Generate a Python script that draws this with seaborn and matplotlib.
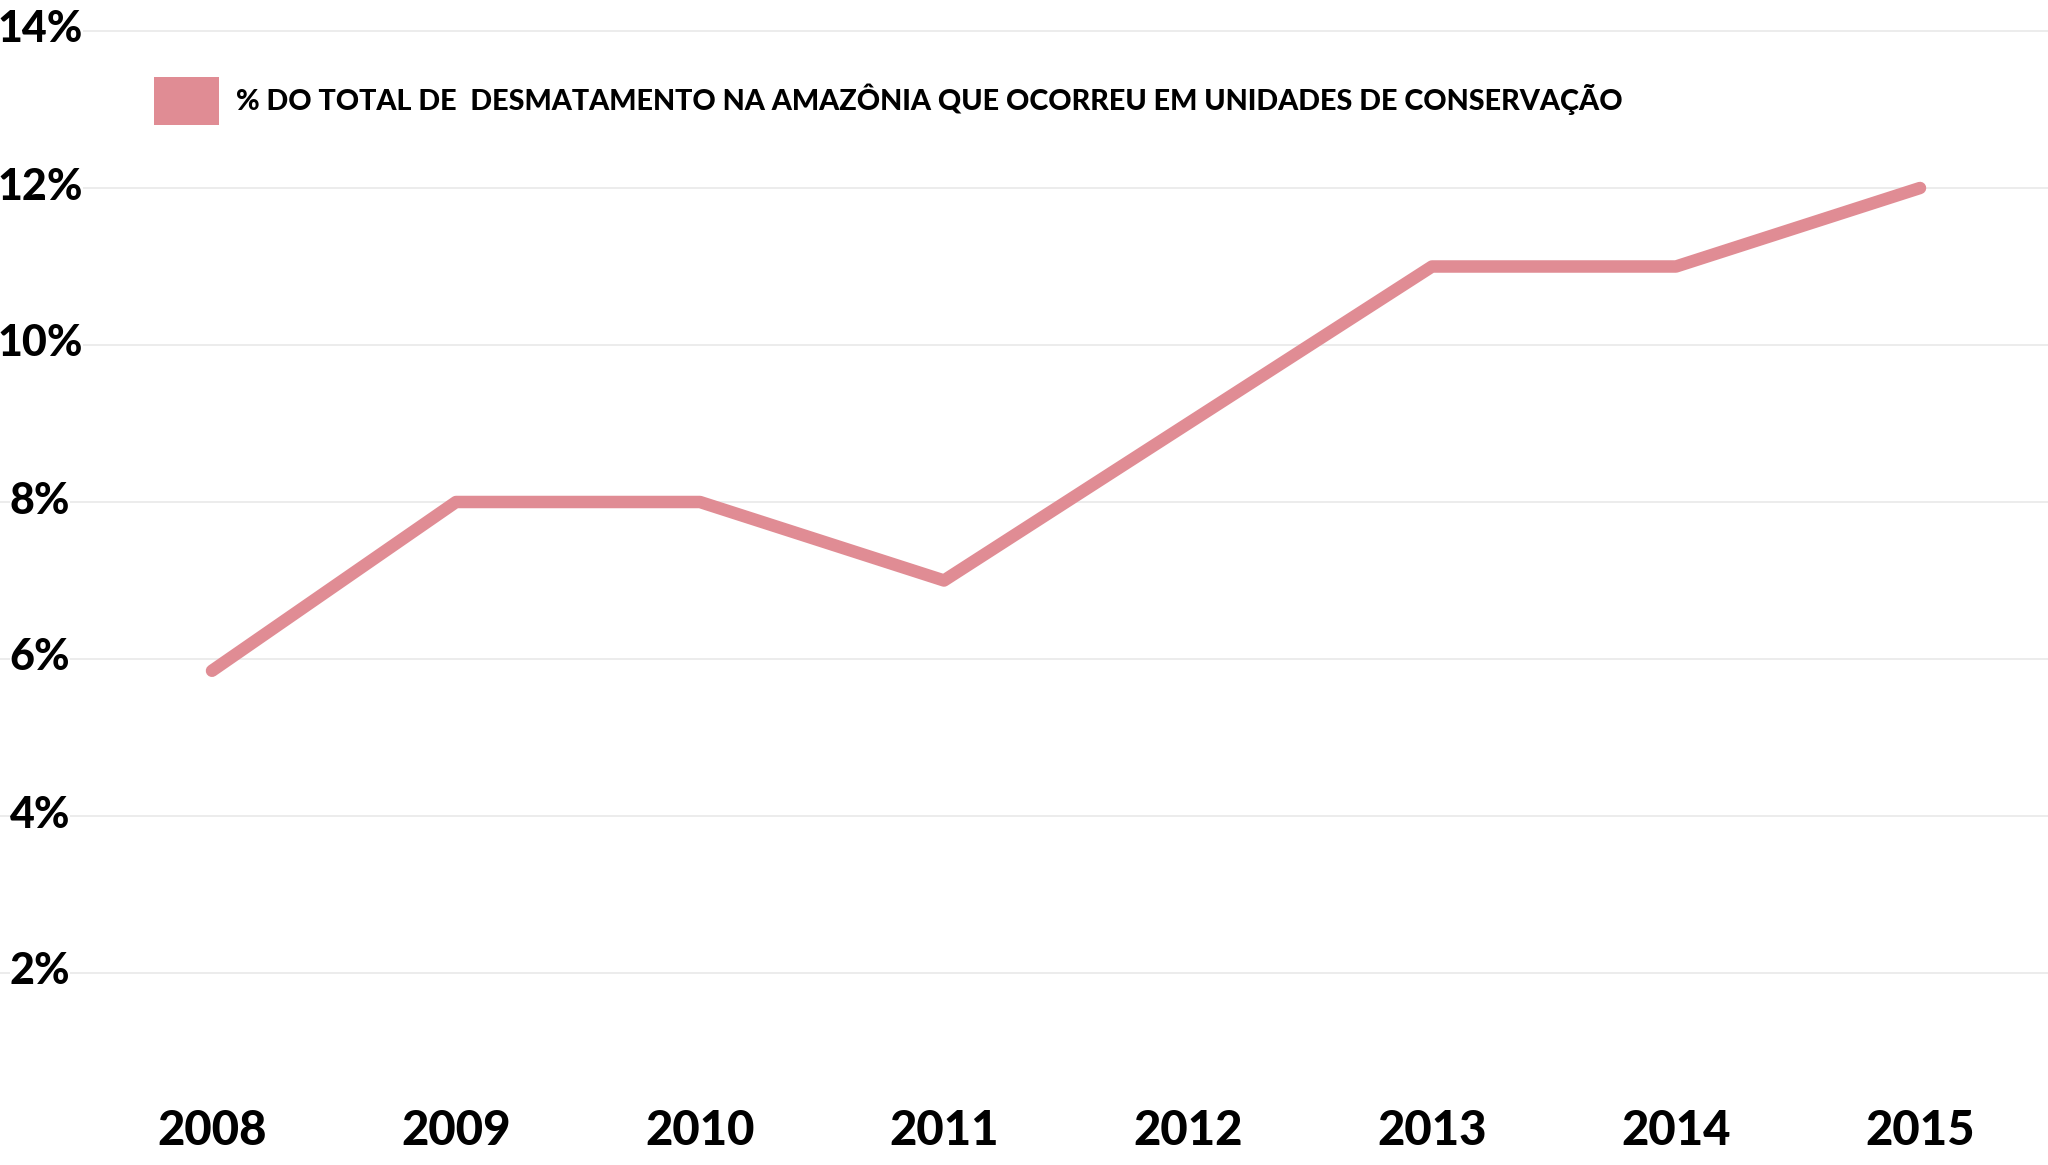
import matplotlib
matplotlib.use("Agg")
import matplotlib.pyplot as plt
import matplotlib.patches as mpatches
import matplotlib.transforms as mtransforms
import seaborn as sns
import pandas as pd

years = [2008, 2009, 2010, 2011, 2012, 2013, 2014, 2015]
share = [5.85, 8.0, 8.0, 7.0, 9.0, 11.0, 11.0, 12.0]
y_ticks = [2, 4, 6, 8, 10, 12, 14]
y_tick_labels = ["2%", "4%", "6%", "8%", "10%", "12%", "14%"]
series_label = "% DO TOTAL DE  DESMATAMENTO NA AMAZÔNIA QUE OCORREU EM UNIDADES DE CONSERVAÇÃO"
line_color = "#E08C94"

sns.set_theme(style="white")
plt.rcParams["font.family"] = ["Lato", "DejaVu Sans"]

df = pd.DataFrame({"year": years, "share": share})

W, H, DPI = 2048, 1165, 100
fig = plt.figure(figsize=(W / DPI, H / DPI), dpi=DPI)
ax = fig.add_axes([0, 0, 1, 1])

sns.lineplot(data=df, x="year", y="share", ax=ax, color=line_color,
             linewidth=9.0, solid_capstyle="round", solid_joinstyle="round",
             legend=False, zorder=3)

# scales: 2008 at x=212px, 244px per year; 14% at y=31px, 78.5px per %
px_year = 244.0
x0 = 2008 - 212 / px_year
x1 = 2008 + (W - 212) / px_year
ax.set_xlim(x0, x1)
px_pct = 78.5
ytop = 14 + 31 / px_pct
ybot = 14 - (H - 31) / px_pct
ax.set_ylim(ybot, ytop)

ax.set_yticks(y_ticks)
ax.set_yticklabels(y_tick_labels)
ax.set_xticks(years)
ax.set_xticklabels([str(y) for y in years])

for s in ax.spines.values():
    s.set_visible(False)

ax.grid(axis="y", color="#EBEBEB", linewidth=1.3)
ax.grid(axis="x", visible=False)
ax.set_axisbelow(True)

ax.tick_params(axis="y", length=0, pad=-40 * 72 / DPI, labelsize=31)
up = mtransforms.ScaledTranslation(0, 5 / DPI, fig.dpi_scale_trans)
for lab in ax.get_yticklabels():
    lab.set_horizontalalignment("center")
    lab.set_fontweight("black")
    lab.set_color("black")
    lab.set_bbox(dict(facecolor="white", edgecolor="none", pad=0))
    lab.set_transform(lab.get_transform() + up)

ax.tick_params(axis="x", length=0, pad=-56 * 72 / DPI, labelsize=34)
for lab in ax.get_xticklabels():
    lab.set_fontweight("black")
    lab.set_color("black")

ax.set_xlabel("")
ax.set_ylabel("")

fs = 20.7
fs_px = fs * DPI / 72
hh = (48 / fs_px - 0.245) / 0.65
handle = mpatches.Patch(facecolor=line_color, edgecolor="none", label=series_label)
leg = ax.legend(handles=[handle], loc="upper left",
                bbox_to_anchor=(154 / W, 1 - 77 / H), bbox_transform=fig.transFigure,
                frameon=False, borderpad=0, borderaxespad=0,
                handlelength=65 / fs_px, handleheight=hh,
                handletextpad=17 / fs_px, labelcolor="black",
                prop={"family": ["Lato", "DejaVu Sans"], "weight": "black", "size": fs})

fig.savefig("out.png", dpi=DPI, facecolor="white")
